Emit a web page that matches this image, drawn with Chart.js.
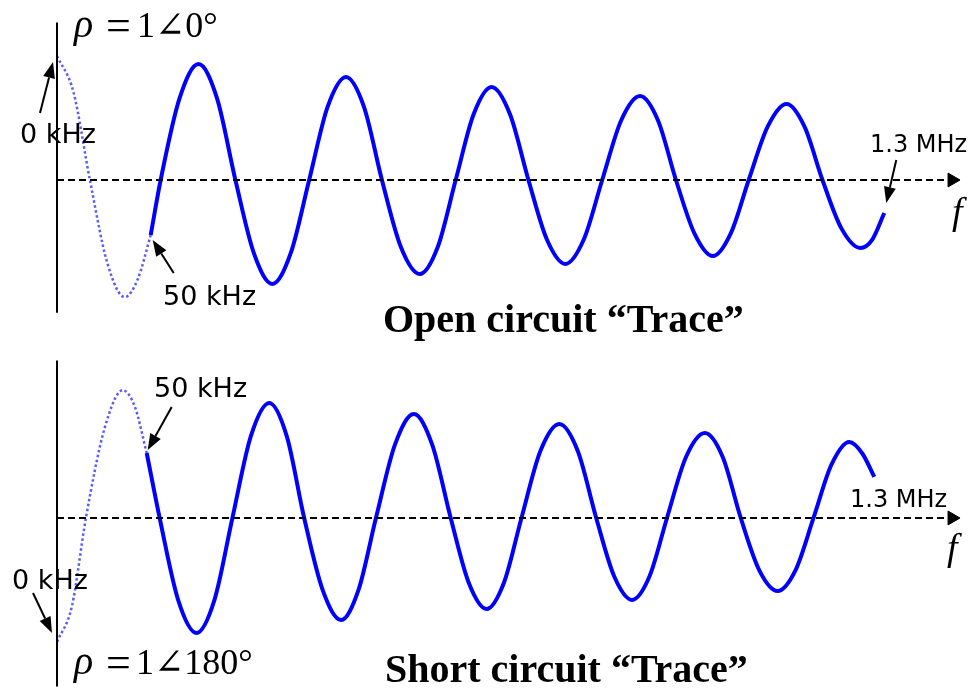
<!DOCTYPE html>
<html>
<head>
<meta charset="utf-8">
<title>Open / short circuit trace</title>
<script src="https://cdn.jsdelivr.net/npm/chart.js@4.4.1/dist/chart.umd.min.js"></script>
<style>
    html, body { margin: 0; padding: 0; background: #fff; }
    .panel { position: relative; width: 973px; height: 348px; }
    canvas { display: block; }
</style>
</head>
<body>
<div class="panel"><canvas id="openChart" width="973" height="348"></canvas></div>
<div class="panel"><canvas id="shortChart" width="973" height="348"></canvas></div>
<script>
'use strict';

// x = position along the f axis (0 at 0 kHz), y = Re(rho)
// open circuit: 0 kHz .. 50 kHz (dotted part)
var openLowX = [0, 1.65, 3.3, 5.05, 6.8, 8.1, 9.4];
var openLowY = [1.0, 0.71, 0, -0.67, -0.944, -0.80, -0.444];
// open circuit: 50 kHz .. 1.3 MHz
var openSweepX = [9.4, 10.4, 12.3, 14.2, 16.05, 17.9, 19.75, 21.6, 23.45, 25.3, 27.15, 29.0, 30.8, 32.6,
    34.5, 36.4, 38.2, 40.0, 41.8, 43.6, 45.45, 47.3, 49.15, 51.0, 52.85, 54.7, 56.6, 58.5, 60.3, 62.1,
    63.95, 65.8, 67.6, 69.4, 71.3, 73.2, 75.0, 76.8, 78.7, 80.6, 81.8, 83.0];
var openSweepY = [-0.444, 0, 0.66, 0.935, 0.66, 0, -0.59, -0.839, -0.59, 0, 0.59, 0.831, 0.59, 0,
    -0.54, -0.758, -0.54, 0, 0.53, 0.75, 0.53, 0, -0.48, -0.677, -0.48, 0, 0.48, 0.677, 0.48, 0,
    -0.43, -0.613, -0.43, 0, 0.43, 0.613, 0.43, 0, -0.39, -0.548, -0.48, -0.266];

// short circuit: 0 kHz .. 50 kHz (dotted part)
var shortLowX = [0, 1.5, 2.9, 4.8, 6.6, 7.8, 9.0];
var shortLowY = [-1.0, -0.71, 0, 0.73, 1.03, 0.90, 0.524];
// short circuit: 50 kHz .. 1.3 MHz
var shortSweepX = [9.0, 10.3, 12.15, 14.0, 15.8, 17.6, 19.45, 21.3, 23.05, 24.8, 26.65, 28.5, 30.25, 32.0,
    33.9, 35.8, 37.65, 39.5, 41.3, 43.1, 44.85, 46.6, 48.5, 50.4, 52.25, 54.1, 55.9, 57.7, 59.45, 61.2,
    63.1, 65.0, 66.8, 68.6, 70.45, 72.3, 74.1, 75.9, 77.7, 79.5, 80.8, 82.0];
var shortSweepY = [0.524, 0, -0.66, -0.927, -0.66, 0, 0.66, 0.927, 0.66, 0, -0.58, -0.823, -0.58, 0,
    0.59, 0.839, 0.59, 0, -0.52, -0.734, -0.52, 0, 0.54, 0.758, 0.54, 0, -0.47, -0.661, -0.47, 0,
    0.49, 0.685, 0.49, 0, -0.42, -0.589, -0.42, 0, 0.43, 0.613, 0.52, 0.331];

var F_AXIS_END = 89.3;   // end of the dashed f axis
var F_ARROW_AT = 89.8;   // arrow head on the f axis
var X_MAX = 91;

function toPoints(xs, ys) {
    var pts = [];
    for (var i = 0; i < xs.length; ++i) {
        pts.push({ x: xs[i], y: ys[i] });
    }
    return pts;
}

function drawArrow(ctx, x0, y0, x1, y1) {
    var ang = Math.atan2(y1 - y0, x1 - x0);
    var len = 16, half = 6;
    var bx = x1 - Math.cos(ang) * len;
    var by = y1 - Math.sin(ang) * len;
    ctx.strokeStyle = '#000';
    ctx.fillStyle = '#000';
    ctx.lineWidth = 2;
    ctx.beginPath();
    ctx.moveTo(x0, y0);
    ctx.lineTo(bx, by);
    ctx.stroke();
    ctx.beginPath();
    ctx.moveTo(x1, y1);
    ctx.lineTo(bx - Math.sin(ang) * half, by + Math.cos(ang) * half);
    ctx.lineTo(bx + Math.sin(ang) * half, by - Math.cos(ang) * half);
    ctx.closePath();
    ctx.fill();
}

// arrows are anchored on trace points, texts are in canvas pixels
function notesPlugin(notes) {
    return {
        id: 'traceNotes',
        afterDraw: function (chart) {
            var ctx = chart.ctx;
            ctx.save();
            notes.arrows.forEach(function (a) {
                var meta = chart.getDatasetMeta(a.dataset);
                var pt = a.last ? meta.data[meta.data.length - 1] : meta.data[0];
                drawArrow(ctx, pt.x + a.tail[0], pt.y + a.tail[1], pt.x + a.tip[0], pt.y + a.tip[1]);
            });
            ctx.fillStyle = '#000';
            ctx.textAlign = 'left';
            ctx.textBaseline = 'alphabetic';
            notes.texts.forEach(function (t) {
                ctx.font = t.font;
                ctx.fillText(t.text, t.x, t.y);
            });
            ctx.restore();
        }
    };
}

var LABEL_FONT = '27px "DejaVu Sans"';
var MHZ_FONT = '24px "DejaVu Sans"';
var TITLE_FONT = 'bold 40px "Liberation Serif"';
var F_FONT = 'italic 38px "Liberation Serif"';
var RHO_FONT = 'italic 40px "Liberation Serif"';
var EQ_FONT = '44px "Liberation Serif"';
var VAL_FONT = '36px "Liberation Serif", "DejaVu Serif"';

function InitTrace(canvasId, lowX, lowY, sweepX, sweepY, yMin, yMax, padding, notes) {
    var data = {
        datasets: [
            {
                // vertical axis
                data: [{ x: 0, y: yMin }, { x: 0, y: yMax }],
                borderColor: '#000',
                borderWidth: 2,
                pointRadius: 0
            },
            {
                // f axis
                data: [{ x: 0, y: 0 }, { x: F_AXIS_END, y: 0 }],
                borderColor: '#000',
                borderWidth: 2,
                borderDash: [7, 4],
                pointRadius: 0
            },
            {
                data: [{ x: F_ARROW_AT, y: 0 }],
                showLine: false,
                pointStyle: 'triangle',
                rotation: 90,
                pointRadius: 8,
                pointBackgroundColor: '#000',
                pointBorderColor: '#000',
                pointBorderWidth: 1
            },
            {
                data: toPoints(lowX, lowY),
                borderColor: '#5a5aff',
                borderWidth: 2.5,
                borderDash: [2.5, 2.5],
                cubicInterpolationMode: 'monotone',
                pointRadius: 0
            },
            {
                data: toPoints(sweepX, sweepY),
                borderColor: '#0000ff',
                borderWidth: 4,
                cubicInterpolationMode: 'monotone',
                pointRadius: 0
            }
        ]
    };

    var options = {
        responsive: false,
        animation: false,
        events: [],
        clip: false,
        layout: { padding: padding },
        plugins: {
            legend: { display: false },
            tooltip: { enabled: false }
        },
        scales: {
            x: { type: 'linear', min: 0, max: X_MAX, display: false },
            y: { type: 'linear', min: yMin, max: yMax, display: false }
        }
    };

    var ctx = document.getElementById(canvasId).getContext('2d');
    return new Chart(ctx, {
        type: 'line',
        data: data,
        options: options,
        plugins: [notesPlugin(notes)]
    });
}

var openNotes = {
    arrows: [
        { dataset: 3, last: false, tip: [-4, 6], tail: [-17, 57] },
        { dataset: 4, last: false, tip: [2, 5], tail: [23, 38] },
        { dataset: 4, last: true, tip: [2, -10], tail: [12, -53] }
    ],
    texts: [
        { text: 'ρ', font: RHO_FONT, x: 74, y: 37 },
        { text: '=', font: EQ_FONT, x: 106, y: 40 },
        { text: '1∠0°', font: VAL_FONT, x: 137, y: 37 },
        { text: '0 kHz', font: LABEL_FONT, x: 20, y: 143 },
        { text: '50 kHz', font: LABEL_FONT, x: 163, y: 305 },
        { text: '1.3 MHz', font: MHZ_FONT, x: 870, y: 152 },
        { text: 'f', font: F_FONT, x: 952, y: 224 },
        { text: 'Open circuit “Trace”', font: TITLE_FONT, x: 383, y: 332 }
    ]
};

var shortNotes = {
    arrows: [
        { dataset: 3, last: false, tip: [-5, -9], tail: [-24, -49] },
        { dataset: 4, last: false, tip: [1, -3], tail: [25, -46] }
    ],
    texts: [
        { text: 'ρ', font: RHO_FONT, x: 74, y: 326 },
        { text: '=', font: EQ_FONT, x: 106, y: 329 },
        { text: '1∠180°', font: VAL_FONT, x: 136, y: 326 },
        { text: '0 kHz', font: LABEL_FONT, x: 12, y: 241 },
        { text: '50 kHz', font: LABEL_FONT, x: 154, y: 49 },
        { text: '1.3 MHz', font: MHZ_FONT, x: 850, y: 159 },
        { text: 'f', font: F_FONT, x: 947, y: 212 },
        { text: 'Short circuit “Trace”', font: TITLE_FONT, x: 385, y: 334 }
    ]
};

InitTrace('openChart', openLowX, openLowY, openSweepX, openSweepY, -1.07, 1.27,
    { left: 57, right: 6, top: 22.5, bottom: 35.3 }, openNotes);
InitTrace('shortChart', shortLowX, shortLowY, shortSweepX, shortSweepY, -1.36, 1.27,
    { left: 57, right: 6, top: 12.5, bottom: 9.4 }, shortNotes);
</script>
</body>
</html>
